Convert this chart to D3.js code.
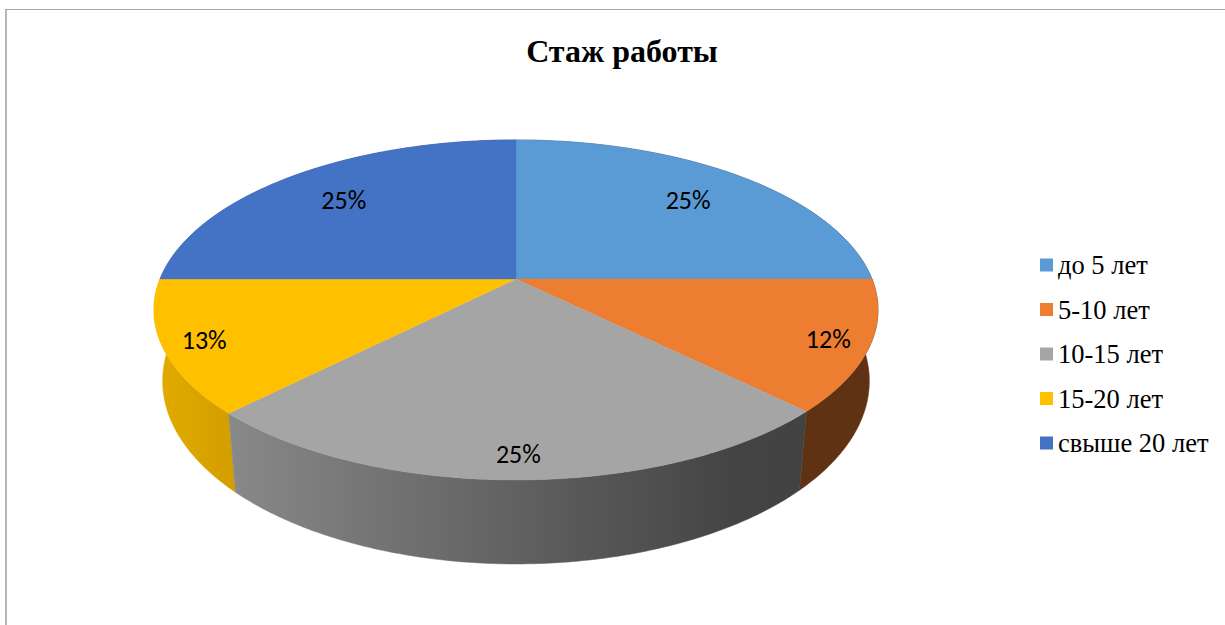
<!DOCTYPE html>
<html lang="ru">
<head>
<meta charset="UTF-8">
<title>Стаж работы</title>
<script src="https://d3js.org/d3.v7.min.js"></script>
<style>
  body { margin: 0; background: #fff; }
  svg { display: block; }
</style>
</head>
<body>
<svg id="chart" width="1225" height="625"></svg>
<script>
// data
const categories = ["до 5 лет", "5-10 лет", "10-15 лет", "15-20 лет", "свыше 20 лет"];
const values = [25, 12.4, 25, 12.6, 25];
const colors = ["#5b9bd5", "#ed7d31", "#a5a5a5", "#ffc000", "#4472c4"];
const title = "Стаж работы";

const svg = d3.select("#chart");

// frame
svg.append("line").attr("x1", 6).attr("x2", 6).attr("y1", 9).attr("y2", 625)
   .attr("stroke", "#a6a6a6").attr("stroke-width", 1.6);
svg.append("line").attr("x1", 6).attr("x2", 1225).attr("y1", 9.5).attr("y2", 9.5)
   .attr("stroke", "#a6a6a6").attr("stroke-width", 1);

svg.append("text")
  .attr("x", 622).attr("y", 62)
  .attr("text-anchor", "middle")
  .style("font-family", "'Liberation Serif', 'Times New Roman', serif")
  .style("font-weight", "bold")
  .style("font-size", "32px")
  .text(title);

// 3d pie projection (perspective, tilted disc)
const cx = 516, cy = 279;      // apex of slices
const A = 356, B = 164.4;      // horizontal / vertical radius factors
const persp = 0.182;           // perspective strength
const depth = 68.7, shrink = 0.976;

function topPt(th, r = 1) {
  const u = r * Math.sin(th), v = r * Math.cos(th), w = 1 + persp * v;
  return [cx + A * u / w, cy - B * v / w];
}
function botPt(th) {
  const p = topPt(th), w = 1 + persp * Math.cos(th);
  return [cx + shrink * (p[0] - cx), p[1] + depth / w];
}
function arcPts(fn, a0, a1) {
  const n = Math.max(2, Math.ceil(Math.abs(a1 - a0) / 0.01));
  return d3.range(n + 1).map(i => fn(a0 + (a1 - a0) * i / n));
}

const pie = d3.pie().sort(null).value(d => d)(values);
const line = d3.line();

// wall shading across x
const shade = t => Math.max(0.40, Math.min(0.9, 0.59 - 0.30 * t));
const defs = svg.append("defs");
colors.forEach((c, i) => {
  const g = defs.append("linearGradient").attr("id", "wall" + i)
    .attr("gradientUnits", "userSpaceOnUse")
    .attr("x1", cx - 362).attr("x2", cx + 362).attr("y1", 0).attr("y2", 0);
  const base = d3.rgb(c);
  d3.range(0, 11).forEach(j => {
    const t = -1 + j * 0.2;
    const f = shade(t);
    g.append("stop").attr("offset", (j * 10) + "%")
      .attr("stop-color", d3.rgb(base.r * f, base.g * f, base.b * f));
  });
});

// walls, drawn back to front
const order = pie.map((d, i) => ({ d, i }))
  .map(o => {
    const minV = d3.min(arcPts(th => Math.cos(th), o.d.startAngle, o.d.endAngle));
    return { ...o, minV };
  })
  .sort((p, q) => q.minV - p.minV);

const walls = svg.append("g");
order.forEach(o => {
  const tp = arcPts(topPt, o.d.startAngle, o.d.endAngle);
  const bp = arcPts(botPt, o.d.endAngle, o.d.startAngle);
  walls.append("path")
    .attr("d", line(tp.concat(bp)) + "Z")
    .attr("fill", `url(#wall${o.i})`)
    .attr("stroke", `url(#wall${o.i})`)
    .attr("stroke-width", 0.5);
});

// top faces
const tops = svg.append("g");
pie.forEach((d, i) => {
  const pts = [[cx, cy]].concat(arcPts(topPt, d.startAngle, d.endAngle));
  tops.append("path")
    .attr("d", line(pts) + "Z")
    .attr("fill", colors[i])
    .attr("stroke", colors[i])
    .attr("stroke-width", 0.4);
});

// percentage labels
const total = d3.sum(values);
pie.forEach((d, i) => {
  const mid = (d.startAngle + d.endAngle) / 2;
  const r = Math.cos(mid) < 0 ? 0.89 : 0.75;
  const p = topPt(mid, r);
  svg.append("text")
    .attr("x", p[0]).attr("y", p[1]).attr("dy", "0.36em")
    .attr("text-anchor", "middle")
    .style("font-family", "Carlito, Lato, 'Open Sans', sans-serif")
    .style("font-size", "26px")
    .attr("fill", "#000")
    .text(Math.round(d.value / total * 100) + "%");
});

// legend
const ly = d3.scalePoint().domain(categories).range([265, 443]);
const legend = svg.append("g");
categories.forEach((c, i) => {
  legend.append("rect")
    .attr("x", 1040).attr("y", ly(c) - 6.5)
    .attr("width", 13).attr("height", 13)
    .attr("fill", colors[i]);
  legend.append("text")
    .attr("x", 1058).attr("y", ly(c)).attr("dy", "0.35em")
    .style("font-family", "'Liberation Serif', 'Times New Roman', serif")
    .style("font-size", "26.5px")
    .attr("fill", "#000")
    .text(c);
});
</script>
</body>
</html>
